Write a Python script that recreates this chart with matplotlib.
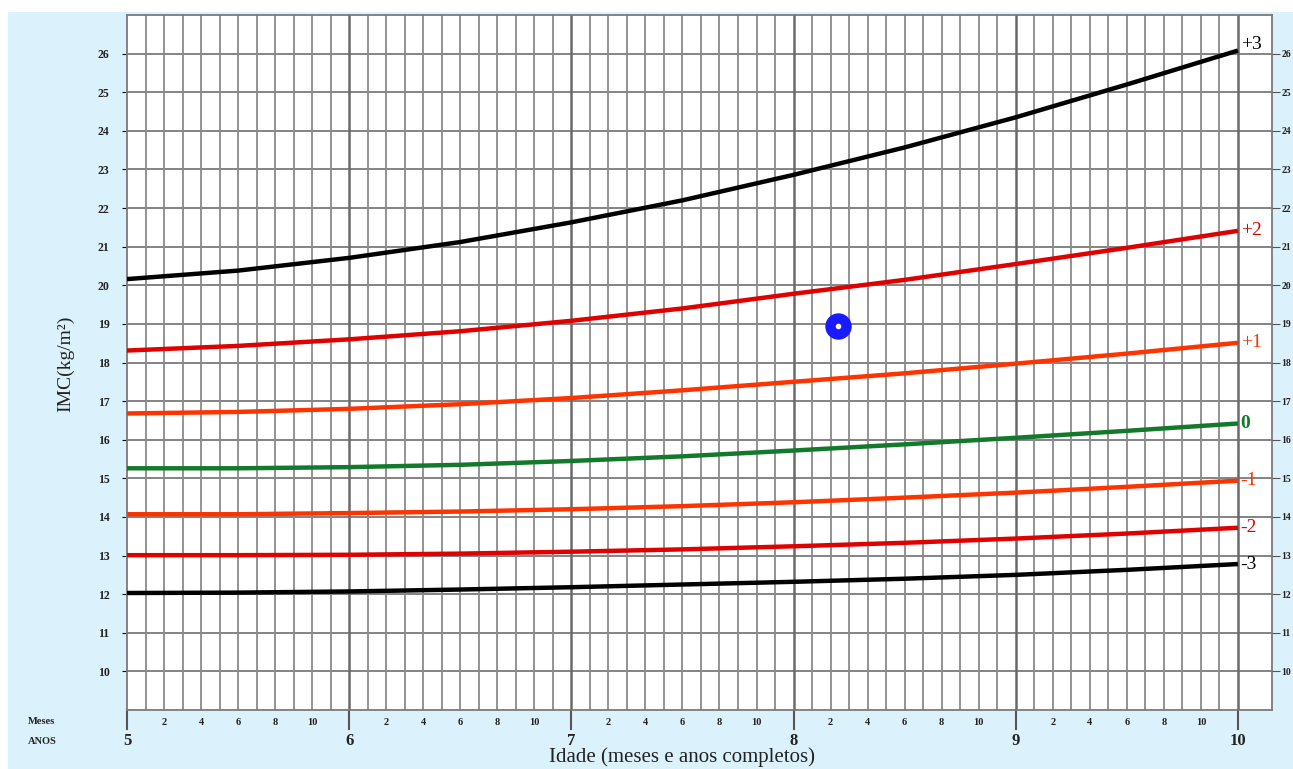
import matplotlib
matplotlib.use("Agg")
import matplotlib.pyplot as plt
from matplotlib.patches import Rectangle

ages = [5.0, 5.5, 6.0, 6.5, 7.0, 7.5, 8.0, 8.5, 9.0, 9.5, 10.0]
sd_p3 = [20.16, 20.38, 20.71, 21.12, 21.63, 22.20, 22.86, 23.57, 24.35, 25.20, 26.08]
sd_p2 = [18.31, 18.43, 18.60, 18.81, 19.08, 19.40, 19.78, 20.14, 20.55, 20.97, 21.41]
sd_p1 = [16.68, 16.72, 16.80, 16.92, 17.08, 17.28, 17.50, 17.72, 17.97, 18.23, 18.51]
sd_0 = [15.26, 15.26, 15.29, 15.35, 15.45, 15.57, 15.72, 15.88, 16.05, 16.23, 16.42]
sd_m1 = [14.07, 14.07, 14.10, 14.14, 14.20, 14.28, 14.38, 14.50, 14.63, 14.78, 14.94]
sd_m2 = [13.01, 13.01, 13.02, 13.05, 13.10, 13.16, 13.24, 13.33, 13.44, 13.57, 13.72]
sd_m3 = [12.03, 12.04, 12.07, 12.12, 12.18, 12.25, 12.32, 12.40, 12.50, 12.63, 12.78]
curve_labels = ["+3", "+2", "+1", "0", "-1", "-2", "-3"]
patient_age = [8.2]
patient_bmi = [18.95]
year_ticks = [5, 6, 7, 8, 9, 10]
month_labels = ["2", "4", "6", "8", "10"]
bmi_ticks = list(range(10, 27))

series = [sd_p3, sd_p2, sd_p1, sd_0, sd_m1, sd_m2, sd_m3]
colors = ["#000000", "#e00000", "#ff3300", "#137a2c", "#ff3300", "#e00000", "#000000"]

serif = ["Liberation Serif", "DejaVu Serif"]

fig = plt.figure(figsize=(12.93, 7.69), dpi=100, facecolor="white")
fig.patches.append(Rectangle((8 / 1293, 0), 1 - 8 / 1293, 1 - 12 / 769,
                             transform=fig.transFigure, facecolor="#dbf1fc",
                             edgecolor="none", zorder=-10))
ax = fig.add_axes([127 / 1293, 1 - 710 / 769, (1272 - 127) / 1293, (710 - 15) / 769])
ax.set_facecolor("white")
xmax = 10 + 1.84 / 12
ax.set_xlim(5, xmax)
ax.set_ylim(9, 27)

# grid
for y in bmi_ticks:
    ax.axhline(y, color="#7a7a7a", lw=1.3, zorder=1)
months = [5 + m / 12 for m in range(1, 61)]
for xm in months:
    if abs(xm - round(xm)) < 1e-6:
        ax.axvline(xm, color="#6a6a6a", lw=1.8, zorder=1)
    else:
        ax.axvline(xm, color="#8a8a8a", lw=1.3, zorder=1)

for s, c in zip(series, colors):
    ax.plot(ages, s, color=c, lw=3.2, solid_capstyle="butt", zorder=3)

for s, c, lab in zip(series, colors, curve_labels):
    fw = "bold" if lab == "0" else "normal"
    dy = 0.15 if lab == "+3" else 0.0
    ax.text(10.012, s[-1] + dy, lab, color=c, fontsize=14, family=serif,
            fontweight=fw, va="center", ha="left", zorder=4, clip_on=False)

ax.plot(patient_age, patient_bmi, "o", color="#1a1aff", ms=18, zorder=5)
ax.plot(patient_age, patient_bmi, "o", color="white", ms=3, zorder=6)

for sp in ax.spines.values():
    sp.set_color("#7a7a7a")
    sp.set_linewidth(1.3)

ax.set_xticks([])
ax.set_yticks(bmi_ticks)
ax.set_yticklabels([str(v) for v in bmi_ticks], family=serif, fontsize=8.5, fontweight="bold")
ax.tick_params(axis="y", left=False, right=False, labelleft=True, labelright=False, pad=9)
for lab in ax.get_yticklabels():
    lab.set_color("#222222")

axr = ax.twinx()
axr.set_ylim(9, 27)
axr.set_yticks(bmi_ticks)
axr.set_yticklabels([str(v) for v in bmi_ticks], family=serif, fontsize=7, fontweight="bold")
axr.tick_params(axis="y", right=True, length=6, color="#555555", pad=1)
for lab in axr.get_yticklabels():
    lab.set_color("#222222")
for sp in axr.spines.values():
    sp.set_visible(False)

fig.text(66 / 1293, 1 - 364 / 769, "IMC(kg/m²)", rotation=90, ha="center", va="center",
         family=serif, fontsize=14, color="#222222")

# bottom labels
trans = ax.get_xaxis_transform()
for yr in year_ticks:
    ax.plot([yr, yr], [0, -0.028], transform=trans, color="#555555", lw=1.5, clip_on=False)
    ax.text(yr, -0.045, str(yr), transform=trans, ha="center", va="center",
            family=serif, fontsize=12, fontweight="bold", color="#222222")
for yr in year_ticks[:-1]:
    for k, ml in enumerate(month_labels):
        xm = yr + (2 * (k + 1)) / 12
        ax.text(xm, -0.018, ml, transform=trans, ha="center", va="center",
                family=serif, fontsize=7.5, fontweight="bold", color="#222222")
ax.text(28 / 1293, 1 - 722 / 769, "Meses", transform=fig.transFigure, ha="left",
        va="center", family=serif, fontsize=7.5, fontweight="bold", color="#222222")
ax.text(28 / 1293, 1 - 741 / 769, "ANOS", transform=fig.transFigure, ha="left",
        va="center", family=serif, fontsize=7.5, fontweight="bold", color="#222222")
fig.text(682 / 1293, 1 - 757 / 769, "Idade (meses e anos completos)", ha="center",
         va="center", family=serif, fontsize=15, color="#222222")

fig.savefig("out.png", dpi=100, facecolor=fig.get_facecolor())
